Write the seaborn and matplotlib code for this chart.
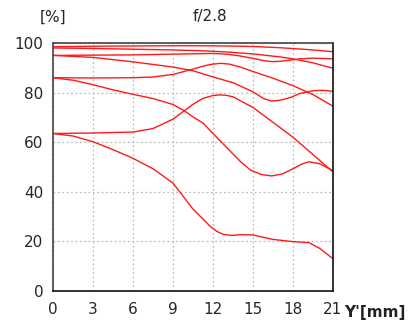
import matplotlib
matplotlib.use("Agg")
import matplotlib.pyplot as plt
import seaborn as sns

# -- data (image height in mm, contrast in %)
x_98s = [0, 3, 6, 9, 11, 13, 15, 17, 19, 21]
y_98s = [98.5, 98.7, 98.8, 98.9, 98.9, 98.8, 98.6, 98.1, 97.4, 96.5]

x_98t = [0, 3, 6, 9, 11, 13, 15, 17, 18, 19.5, 21]
y_98t = [98.0, 97.8, 97.5, 97.2, 96.9, 96.4, 95.6, 94.4, 93.6, 92.0, 89.8]

x_95s = [0, 3, 6, 9, 12, 13, 14, 15, 15.8, 16.4, 17, 17.8, 18.5, 19.5, 21]
y_95s = [95.0, 95.1, 95.2, 95.5, 95.8, 95.5, 94.8, 93.8, 92.9, 92.5, 92.6, 93.1, 93.6, 93.9, 93.6]

x_95t = [0, 3, 6, 9, 10.5, 12, 13.5, 15, 15.8, 16.4, 17, 17.8, 18.5, 19.5, 20.3, 21]
y_95t = [95.0, 94.2, 92.4, 90.3, 88.8, 86.3, 84.0, 80.3, 77.6, 76.6, 76.9, 78.0, 79.6, 80.8, 80.9, 80.5]

x_86s = [0, 3, 6, 7.5, 9, 10.5, 11.5, 12, 12.6, 13.2, 14, 15, 16.5, 18, 19.5, 21]
y_86s = [86.0, 85.9, 86.0, 86.3, 87.3, 89.5, 91.0, 91.5, 91.8, 91.5, 90.4, 88.5, 85.8, 82.8, 79.2, 74.5]

x_86t = [0, 1.5, 3, 4.5, 6, 7.5, 9, 9.85, 10.5, 11.25, 12, 13, 14, 14.8, 15.6, 16.4, 17.2, 18, 18.7, 19.2, 20, 21]
y_86t = [86.0, 85.0, 83.2, 81.1, 79.3, 77.6, 75.2, 72.7, 70.2, 67.7, 63.5, 58.0, 52.5, 48.8, 47.0, 46.4, 47.2, 49.3, 51.3, 52.1, 51.3, 48.5]

x_63s = [0, 3, 6, 7.5, 9, 9.85, 10.5, 11.25, 12, 12.5, 13, 13.5, 15, 16.5, 18, 19.5, 21]
y_63s = [63.5, 63.7, 64.1, 65.5, 69.3, 72.7, 75.3, 77.7, 78.8, 79.1, 78.9, 78.3, 74.0, 68.0, 62.0, 55.0, 48.0]

x_63t = [0, 1.5, 3, 4.5, 6, 7.5, 9, 10.5, 11.25, 11.8, 12.3, 12.8, 13.4, 14, 15, 16.5, 18, 19.2, 20, 21]
y_63t = [63.5, 62.5, 60.2, 57.0, 53.5, 49.3, 43.5, 33.0, 29.0, 26.0, 24.0, 22.8, 22.4, 22.7, 22.6, 20.8, 19.9, 19.5, 17.2, 13.0]

curves = [(x_98s, y_98s), (x_98t, y_98t), (x_95s, y_95s), (x_95t, y_95t),
          (x_86s, y_86s), (x_86t, y_86t), (x_63s, y_63s), (x_63t, y_63t)]

x_ticks = [0, 3, 6, 9, 12, 15, 18, 21]
y_ticks = [0, 20, 40, 60, 80, 100]

sns.set_style("white")
plt.rcParams["font.family"] = ["DejaVu Sans"]

fig = plt.figure(figsize=(4.17, 3.24), dpi=100)
ax = fig.add_axes([53 / 417, 33 / 324, 280 / 417, 248 / 324])

for xs, ys in curves:
    sns.lineplot(x=xs, y=ys, ax=ax, color="#ff1a1a", linewidth=1.0)

ax.set_xlim(0, 21)
ax.set_ylim(0, 100)
ax.set_xticks(x_ticks)
ax.set_yticks(y_ticks)
ax.tick_params(axis="both", direction="out", length=5, width=1.2,
               labelsize=11, pad=2, color="#333333")
ax.tick_params(axis="x", pad=3)
ax.grid(True, color="#bdbdbd", linestyle=(0, (1.5, 2)), linewidth=0.9)

for side in ["top", "right", "bottom", "left"]:
    ax.spines[side].set_visible(True)
    ax.spines[side].set_color("#111111")
    ax.spines[side].set_linewidth(1.2)
ax.spines["left"].set_color("#444444")
ax.spines["top"].set_color("#444444")

fig.text(53 / 417, 1 - 17 / 324, "[%]", ha="center", va="center", fontsize=11)
fig.text(210 / 417, 1 - 17 / 324, "f/2.8", ha="center", va="center", fontsize=11)
fig.text(375 / 417, 1 - 313 / 324, "Y'[mm]", ha="center", va="center",
         fontsize=11, fontweight="bold", color="#222222")

fig.savefig("out.png", dpi=100)
